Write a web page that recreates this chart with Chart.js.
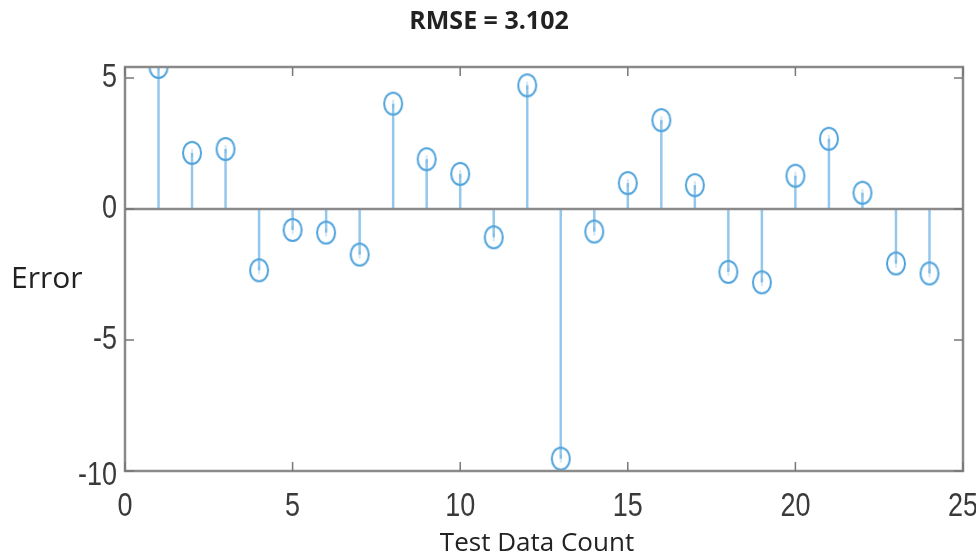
<!DOCTYPE html>
<html>
<head>
<meta charset="utf-8">
<script src="https://cdn.jsdelivr.net/npm/chart.js@4"></script>
<style>
  html, body { margin: 0; padding: 0; background: #fff; }
  #wrap { width: 976px; height: 560px; position: relative; }
</style>
</head>
<body>
<div id="wrap"><canvas id="stem-chart"></canvas></div>
<script>
// data
const testCount = [1, 2, 3, 4, 5, 6, 7, 8, 9, 10, 11, 12, 13, 14, 15, 16, 17, 18, 19, 20, 21, 22, 23, 24];
const errorValues = [5.42, 2.14, 2.29, -2.34, -0.8, -0.9, -1.74, 4.02, 1.9, 1.34, -1.08, 4.72, -9.53, -0.86, 0.99, 3.39, 0.91, -2.4, -2.8, 1.27, 2.68, 0.62, -2.08, -2.46];
const xTicks = [0, 5, 10, 15, 20, 25];
const yTicks = [-10, -5, 0, 5];
const titleText = "RMSE = 3.102";
const xLabel = "Test Data Count";
const yLabel = "Error";

const points = testCount.map((x, i) => ({ x: x, y: errorValues[i] }));

const markerColor = '#4fa3dc';
const stemColor = '#93c7ec';
const axisColor = '#8a8a8a';

// ellipse marker like the stretched matlab circle
function makeMarker(){
    const c = document.createElement('canvas');
    c.width = 24;
    c.height = 28;
    const g = c.getContext('2d');
    g.strokeStyle = markerColor;
    g.lineWidth = 2;
    g.beginPath();
    g.ellipse(12, 14, 9, 11, 0, 0, Math.PI * 2);
    g.stroke();
    g.strokeStyle = 'rgba(79,163,220,0.5)';
    g.lineWidth = 1;
    g.beginPath();
    g.moveTo(12, 10);
    g.lineTo(12, 18);
    g.stroke();
    return c;
}

// tick text drawn stretched, the reference digits are tall and narrow
function tallText(ctx, text, x, y, align){
    ctx.save();
    ctx.translate(x, y);
    ctx.scale(1, 1.25);
    ctx.textAlign = align;
    ctx.textBaseline = 'middle';
    ctx.fillText(text, 0, 0);
    ctx.restore();
}

const stemPlugin = {
    id: 'stems',
    beforeDatasetsDraw(chart){
        const ctx = chart.ctx;
        const xs = chart.scales.x;
        const ys = chart.scales.y;
        const y0 = ys.getPixelForValue(0);
        ctx.save();
        ctx.strokeStyle = stemColor;
        ctx.lineWidth = 2.5;
        points.forEach(p => {
            const px = xs.getPixelForValue(p.x);
            ctx.beginPath();
            ctx.moveTo(px, y0);
            ctx.lineTo(px, ys.getPixelForValue(p.y));
            ctx.stroke();
        });
        // baseline
        ctx.strokeStyle = axisColor;
        ctx.lineWidth = 2.5;
        ctx.beginPath();
        ctx.moveTo(chart.chartArea.left, y0);
        ctx.lineTo(chart.chartArea.right, y0);
        ctx.stroke();
        ctx.restore();
    },
    afterDraw(chart){
        const ctx = chart.ctx;
        const a = chart.chartArea;
        const xs = chart.scales.x;
        const ys = chart.scales.y;
        ctx.save();
        ctx.strokeStyle = axisColor;
        ctx.lineWidth = 2.5;
        ctx.strokeRect(a.left, a.top, a.right - a.left, a.bottom - a.top);

        // inward ticks
        ctx.lineWidth = 1.5;
        ctx.strokeStyle = '#777';
        xTicks.forEach(v => {
            const px = xs.getPixelForValue(v);
            ctx.beginPath();
            ctx.moveTo(px, a.bottom);
            ctx.lineTo(px, a.bottom - 9);
            ctx.moveTo(px, a.top);
            ctx.lineTo(px, a.top + 9);
            ctx.stroke();
        });
        yTicks.forEach(v => {
            const py = ys.getPixelForValue(v);
            ctx.beginPath();
            ctx.moveTo(a.left, py);
            ctx.lineTo(a.left + 9, py);
            ctx.moveTo(a.right, py);
            ctx.lineTo(a.right - 9, py);
            ctx.stroke();
        });

        // tick labels
        ctx.fillStyle = '#3a3a3a';
        ctx.font = '27px "Liberation Sans", Arial, sans-serif';
        xTicks.forEach(v => {
            tallText(ctx, String(v), xs.getPixelForValue(v), 507, 'center');
        });
        yTicks.forEach(v => {
            const py = ys.getPixelForValue(v) + (v === -10 ? 5 : 0);
            tallText(ctx, String(v), a.left - 8, py, 'right');
        });

        // title
        ctx.fillStyle = '#222';
        ctx.textAlign = 'center';
        ctx.textBaseline = 'middle';
        ctx.font = 'bold 25px "Open Sans", sans-serif';
        ctx.fillText(titleText, 489, 22);

        // y label, horizontal like the reference
        ctx.textAlign = 'left';
        ctx.font = '30px "Open Sans", sans-serif';
        ctx.fillText(yLabel, 11, 279);

        // x label
        ctx.textAlign = 'center';
        ctx.font = '26px "Open Sans", sans-serif';
        ctx.fillText(xLabel, 537, 544);
        ctx.restore();
    }
};

new Chart(document.getElementById('stem-chart'), {
    type: 'scatter',
    data: {
        datasets: [{
            label: 'Error',
            data: points,
            pointStyle: makeMarker(),
            pointRadius: 10,
            pointHoverRadius: 10
        }]
    },
    options: {
        responsive: true,
        maintainAspectRatio: false,
        animation: false,
        layout: {
            padding: { top: 67, right: 13, left: 0, bottom: 0 }
        },
        plugins: {
            legend: { display: false },
            tooltip: { enabled: false }
        },
        scales: {
            x: {
                type: 'linear',
                min: 0,
                max: 25,
                afterFit: s => { s.height = 89; s.paddingLeft = 0; s.paddingRight = 0; },
                afterBuildTicks: s => { s.ticks = xTicks.map(v => ({ value: v })); },
                grid: { display: false, drawTicks: false },
                border: { display: false },
                ticks: { display: false }
            },
            y: {
                type: 'linear',
                min: -10,
                max: 5.42,
                afterFit: s => { s.width = 125; },
                afterBuildTicks: s => { s.ticks = yTicks.map(v => ({ value: v })); },
                grid: { display: false, drawTicks: false },
                border: { display: false },
                ticks: { display: false }
            }
        }
    },
    plugins: [stemPlugin]
});
</script>
</body>
</html>
